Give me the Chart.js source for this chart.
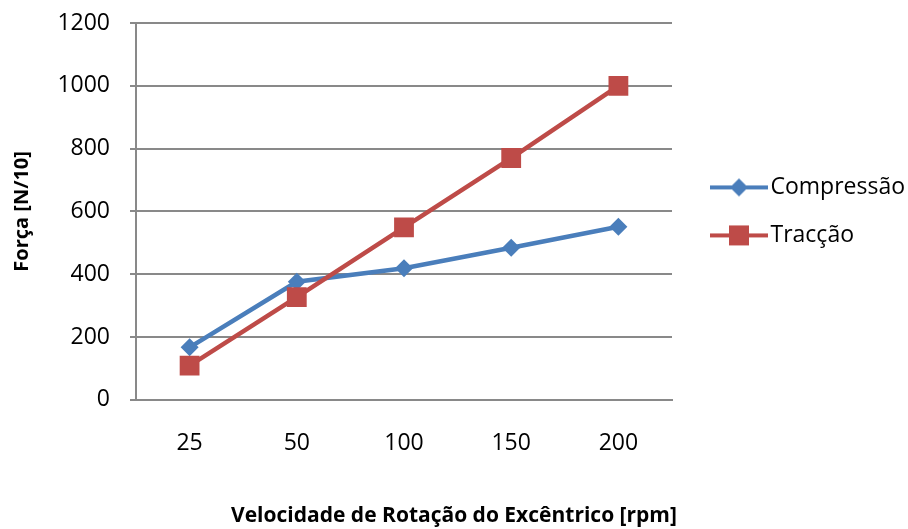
<!DOCTYPE html>
<html>
<head>
<meta charset="utf-8">
<script src="https://cdn.jsdelivr.net/npm/chart.js@4.4.0/dist/chart.umd.min.js"></script>
<style>
  html, body { margin: 0; padding: 0; background: #fff; }
  #wrap { width: 908px; height: 529px; }
</style>
</head>
<body>
<div id="wrap"><canvas id="chart" width="908" height="529"></canvas></div>
<script>
// valores
const velocidades = ['25', '50', '100', '150', '200'];
const compressao = [167, 376, 419, 484, 551];
const traccao = [109, 327, 549, 770, 1000];

const azul = '#4a7ebb';
const vermelho = '#be4b48';

// símbolo da legenda: linha com marcador, como no Excel
function legendIcon(color, shape) {
  const c = document.createElement('canvas');
  c.width = 58; c.height = 22;
  const g = c.getContext('2d');
  g.strokeStyle = color; g.lineWidth = 4;
  g.beginPath(); g.moveTo(0, 11); g.lineTo(58, 11); g.stroke();
  g.fillStyle = color;
  g.beginPath();
  if (shape === 'diamond') {
    g.moveTo(29, 2); g.lineTo(38, 11); g.lineTo(29, 20); g.lineTo(20, 11);
  } else {
    g.rect(19, 1, 20, 20);
  }
  g.closePath(); g.fill();
  return c;
}
const icons = [legendIcon(azul, 'diamond'), legendIcon(vermelho, 'square')];

const font = { family: '"Open Sans", sans-serif', size: 23 };
const bold = { family: '"Open Sans", sans-serif', size: 20, weight: 'bold' };

new Chart(document.getElementById('chart'), {
  type: 'line',
  data: {
    labels: velocidades,
    datasets: [{
      label: 'Compressão',
      data: compressao,
      borderColor: azul,
      backgroundColor: azul,
      borderWidth: 4.5,
      pointStyle: 'rectRot',
      pointRadius: 9,
      pointBorderWidth: 0,
      order: 1
    }, {
      label: 'Tracção',
      data: traccao,
      borderColor: vermelho,
      backgroundColor: vermelho,
      borderWidth: 4.5,
      pointStyle: 'rect',
      pointRadius: 14,
      pointBorderWidth: 0,
      order: 0
    }]
  },
  options: {
    responsive: false,
    animation: false,
    layout: { padding: { top: 23, left: 0, right: 0, bottom: 0 } },
    scales: {
      x: {
        offset: true,
        afterFit: s => { s.height = 54; s.paddingLeft = 0; s.paddingRight = 0; },
        grid: { display: false, drawTicks: false },
        border: { display: true, color: '#898989', width: 2 },
        ticks: { color: '#000', font: font, padding: 30, maxRotation: 0 }
      },
      y: {
        min: 0, max: 1200,
        afterFit: s => { s.width = 136; s.paddingTop = 0; s.paddingBottom = 0; },
        ticks: { stepSize: 200, color: '#000', font: font, padding: 20,
                 callback: v => String(v) },
        grid: { color: '#898989', lineWidth: 2, tickLength: 6 },
        border: { display: true, color: '#898989', width: 2 },
        title: { display: true, text: 'Força [N/10]', color: '#000', font: bold, padding: { top: 10, bottom: 0 } }
      },
      y2: {
        position: 'right',
        afterFit: s => { s.width = 22; s.paddingTop = 0; s.paddingBottom = 0; },
        grid: { display: false },
        border: { display: false },
        ticks: { display: false }
      }
    },
    plugins: {
      legend: {
        position: 'right',
        fullSize: false,
        maxWidth: 214,
        labels: {
          font: font,
          color: '#000',
          usePointStyle: true,
          pointStyleWidth: 40,
          padding: 25,
          sort: (a, b) => a.datasetIndex - b.datasetIndex,
          generateLabels: chart => {
            const items = Chart.defaults.plugins.legend.labels.generateLabels(chart);
            items.forEach(it => { it.pointStyle = icons[it.datasetIndex]; });
            return items;
          }
        }
      },
      title: {
        display: true,
        position: 'bottom',
        text: 'Velocidade de Rotação do Excêntrico [rpm]',
        color: '#000',
        font: { family: '"Open Sans", sans-serif', size: 21, weight: 'bold' },
        padding: { top: 50, bottom: 0 }
      },
      tooltip: { enabled: false }
    }
  }
});
</script>
</body>
</html>
